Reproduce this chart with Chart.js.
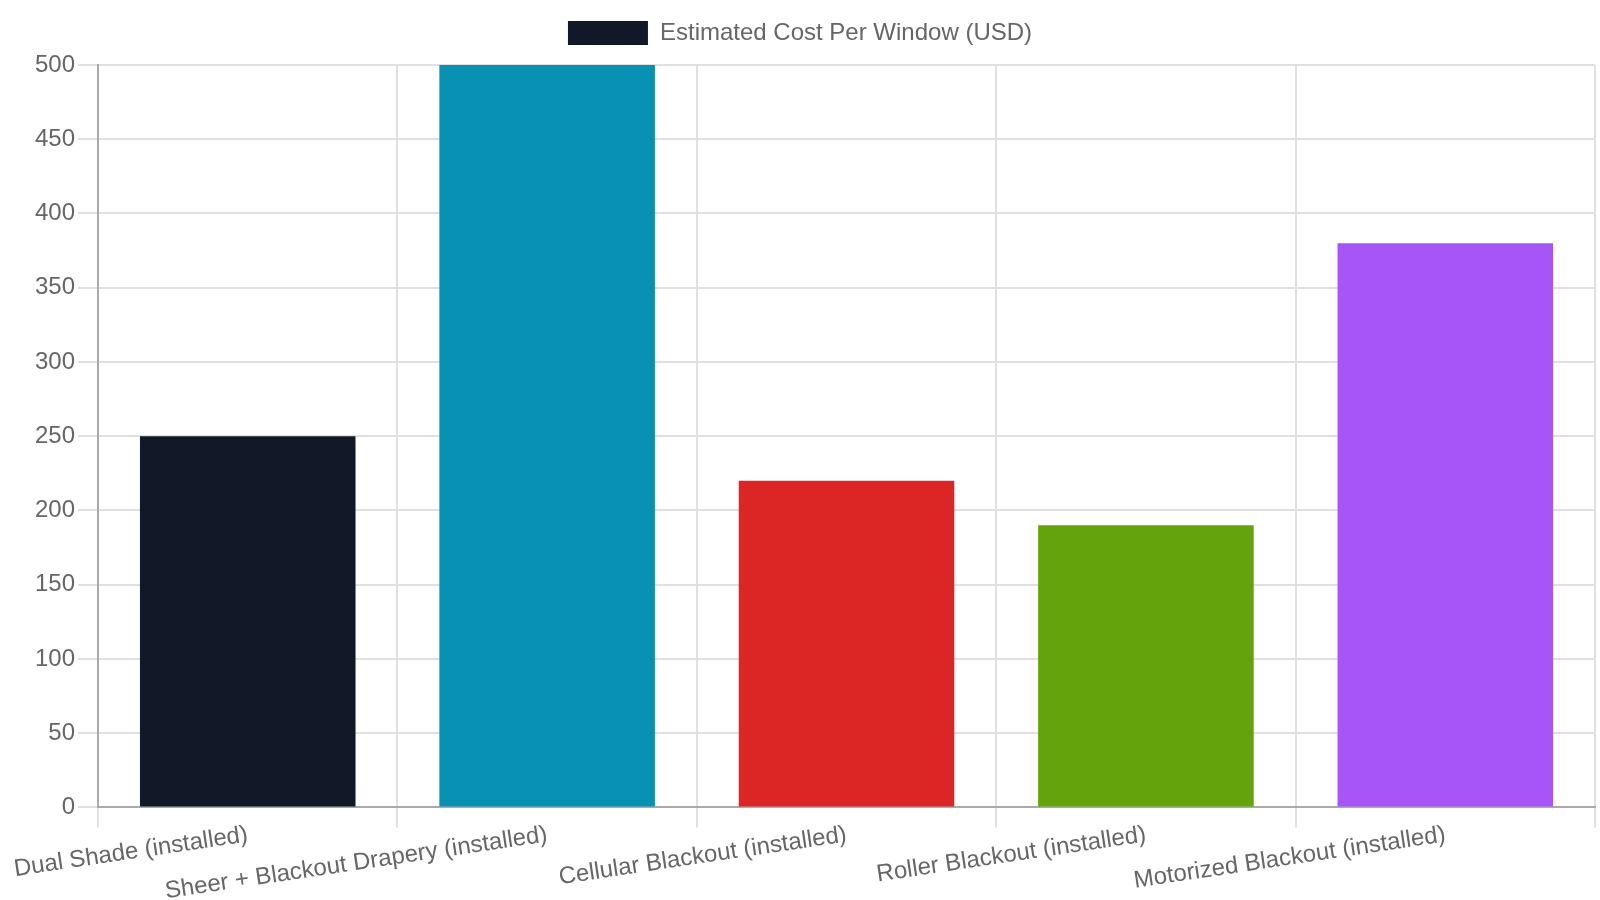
<!DOCTYPE html>
<html>
<head>
<meta charset="utf-8">
<script src="https://cdn.jsdelivr.net/npm/chart.js@4"></script>
<style>
  html, body { margin: 0; padding: 0; background: #fff; }
  #wrap { width: 1600px; height: 900px; }
</style>
</head>
<body>
<div id="wrap"><canvas id="costChart"></canvas></div>
<script>
// Data
const categories = [
    'Dual Shade (installed)',
    'Sheer + Blackout Drapery (installed)',
    'Cellular Blackout (installed)',
    'Roller Blackout (installed)',
    'Motorized Blackout (installed)'
];
const costPerWindow = [250, 500, 220, 190, 380];
const barColors = ['#111827', '#0891b2', '#dc2626', '#65a30d', '#a855f7'];
const seriesLabel = 'Estimated Cost Per Window (USD)';

// adds some space under the legend
const legendGap = {
    id: 'legendGap',
    beforeInit(chart) {
        const fitLegend = chart.legend.fit;
        chart.legend.fit = function () {
            fitLegend.call(this);
            this.height += 10;
        };
    }
};

// longer tick marks under the x axis, at the category boundaries
const xTickMarks = {
    id: 'xTickMarks',
    afterDraw(chart) {
        const x = chart.scales.x;
        const c = chart.ctx;
        c.save();
        c.strokeStyle = '#e0e0e0';
        c.lineWidth = 2;
        for (let i = 0; i <= categories.length; i++) {
            const px = Math.round(x.getPixelForValue(i - 0.5));
            c.beginPath();
            c.moveTo(px, x.top + 1);
            c.lineTo(px, x.top + 20);
            c.stroke();
        }
        c.restore();
    }
};

document.addEventListener("DOMContentLoaded", () => {
    Chart.defaults.font.family = '"Liberation Sans", Arial, sans-serif';
    Chart.defaults.font.size = 24;
    Chart.defaults.color = '#666';

    const ctx = document.getElementById('costChart').getContext('2d');
    new Chart(ctx, {
        type: 'bar',
        data: {
            labels: categories,
            datasets: [{
                label: seriesLabel,
                data: costPerWindow,
                backgroundColor: barColors,
                borderWidth: 0
            }]
        },
        options: {
            responsive: true,
            maintainAspectRatio: false,
            animation: false,
            layout: { padding: { top: 2, right: 5, left: 5, bottom: -9 } },
            plugins: {
                legend: {
                    labels: { boxWidth: 80, boxHeight: 24, padding: 19 }
                },
                tooltip: { enabled: false }
            },
            scales: {
                x: {
                    grid: { color: '#e0e0e0', lineWidth: 2, tickLength: 10 },
                    border: { color: '#aaa', width: 2 },
                    ticks: { autoSkip: false, minRotation: 8.5, maxRotation: 8.5 }
                },
                y: {
                    beginAtZero: true,
                    max: 500,
                    ticks: { stepSize: 50 },
                    grid: { color: '#e0e0e0', lineWidth: 2, tickLength: 20 },
                    border: { color: '#aaa', width: 2 },
                    afterFit(scale) { scale.width += 27; }
                }
            }
        },
        plugins: [legendGap, xTickMarks]
    });
});
</script>
</body>
</html>
